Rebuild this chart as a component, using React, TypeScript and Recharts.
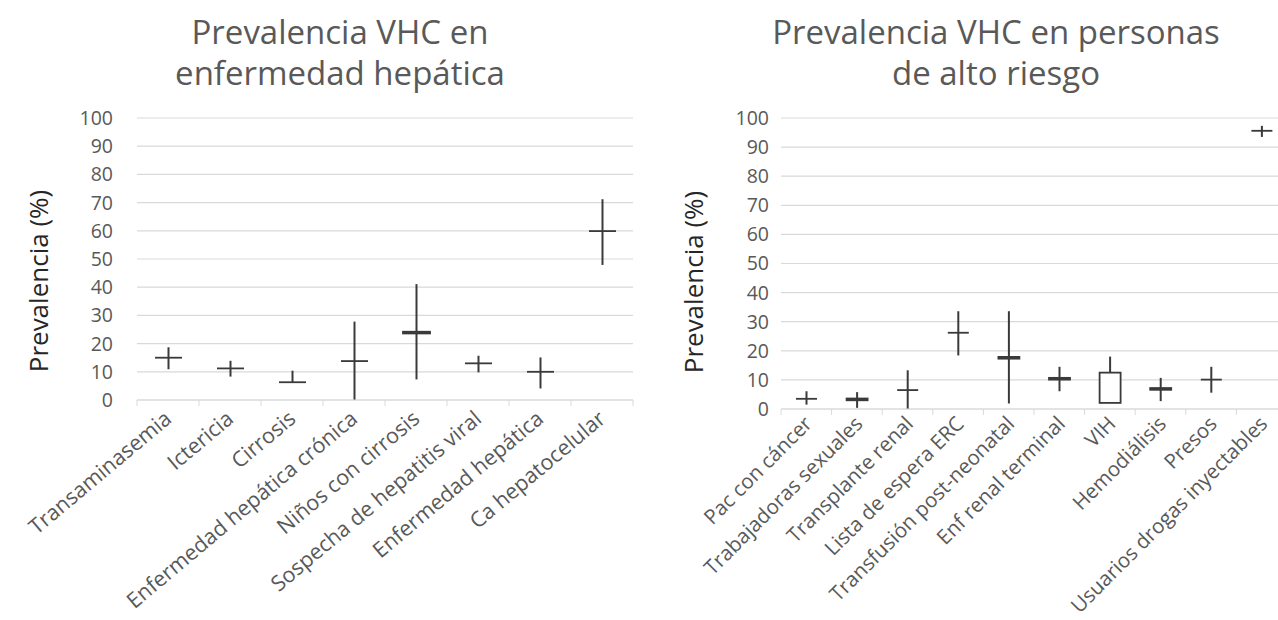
import React from 'react';
import { ComposedChart, Bar, XAxis, YAxis, CartesianGrid } from 'recharts';

// ---- Chart 1: Prevalencia VHC en enfermedad hepática ----
const hepCategories = [
  'Transaminasemia',
  'Ictericia',
  'Cirrosis',
  'Enfermedad hepática crónica',
  'Niños con cirrosis',
  'Sospecha de hepatitis viral',
  'Enfermedad hepática',
  'Ca hepatocelular',
];
const hepLow = [10.9, 8.3, 6.3, 0, 7.3, 9.8, 4.1, 47.9];
const hepHigh = [18.7, 13.9, 10.4, 27.8, 41.1, 15.7, 15.1, 71.2];
const hepOpen = [15.0, 11.2, 6.3, 13.8, 23.6, 13.0, 10.0, 59.9];
const hepClose = [15.0, 11.2, 6.3, 13.8, 24.2, 13.0, 10.0, 59.9];

// ---- Chart 2: Prevalencia VHC en personas de alto riesgo ----
const riskCategories = [
  'Pac con cáncer',
  'Trabajadoras sexuales',
  'Transplante renal',
  'Lista de espera ERC',
  'Transfusión post-neonatal',
  'Enf renal terminal',
  'VIH',
  'Hemodiálisis',
  'Presos',
  'Usuarios drogas inyectables',
];
const riskLow = [1.5, 0.4, 0, 18.4, 1.9, 6.1, 2.1, 2.7, 5.6, 93.5];
const riskHigh = [6.1, 5.8, 13.3, 33.6, 33.6, 14.5, 18.0, 10.7, 14.5, 97.3];
const riskOpen = [3.5, 3.0, 6.5, 26.2, 17.3, 10.1, 2.1, 6.6, 10.1, 95.6];
const riskClose = [3.5, 3.6, 6.5, 26.2, 17.9, 10.7, 12.5, 7.2, 10.1, 95.6];

const yTicks = [0, 10, 20, 30, 40, 50, 60, 70, 80, 90, 100];

const hepTitle = ['Prevalencia VHC en', 'enfermedad hepática'];
const riskTitle = ['Prevalencia VHC en personas', 'de alto riesgo'];
const yAxisTitle = 'Prevalencia (%)';

type Row = { name: string; pos: number; low: number; high: number; open: number; close: number };

function buildRows(cats: string[], low: number[], high: number[], open: number[], close: number[]): Row[] {
  return cats.map((c, i) => ({ name: c, pos: i + 0.5, low: low[i], high: high[i], open: open[i], close: close[i] }));
}

const hepRows = buildRows(hepCategories, hepLow, hepHigh, hepOpen, hepClose);
const riskRows = buildRows(riskCategories, riskLow, riskHigh, riskOpen, riskClose);

const INK = '#3a3a3a';
const GRID = '#d9d9d9';
const TEXT = '#595959';
const FONT = "'Open Sans', sans-serif";

const StockShape = (props: any) => {
  const { x, y, width, height, payload } = props;
  if (x == null || y == null) return null;
  const { low, high, open, close } = payload as Row;
  const span = high - low;
  const yOf = (v: number) => (span === 0 ? y : y + (height * (high - v)) / span);
  const cx = x + width / 2;
  const yTop = yOf(Math.max(open, close));
  const yBot = yOf(Math.min(open, close));
  return (
    <g>
      <line x1={cx} x2={cx} y1={y} y2={y + height} stroke={INK} strokeWidth={2} />
      {yBot - yTop < 0.5 ? (
        <line x1={x} x2={x + width} y1={yTop} y2={yTop} stroke={INK} strokeWidth={1.8} />
      ) : (
        <rect x={x} y={yTop} width={width} height={yBot - yTop} fill="#ffffff" stroke={INK} strokeWidth={1.8} />
      )}
    </g>
  );
};

const makeTick = (cats: string[], fontSize: number, angle: number, dx: number, dy: number) => (props: any) => {
  const { x, y, payload } = props;
  const v = payload.value as number;
  if (Number.isInteger(v)) {
    return <line x1={x} x2={x} y1={y} y2={y + 6} stroke={GRID} strokeWidth={1} />;
  }
  const label = cats[Math.floor(v)];
  const ax = x + dx;
  const ay = y + dy;
  return (
    <text
      x={ax}
      y={ay}
      transform={`rotate(${angle} ${ax} ${ay})`}
      textAnchor="end"
      fontSize={fontSize}
      fill={TEXT}
      fontFamily={FONT}
    >
      {label}
    </text>
  );
};

function tickPositions(n: number): number[] {
  const out: number[] = [];
  for (let i = 0; i <= 2 * n; i++) out.push(i / 2);
  return out;
}

type PanelProps = {
  rows: Row[];
  cats: string[];
  width: number;
  plotLeft: number;
  plotRight: number;
  plotTop: number;
  plotBottom: number;
  barSize: number;
  yMargin: number;
  labelSize: number;
  labelAngle: number;
  labelDx: number;
  labelDy: number;
};

const Panel = ({
  rows,
  cats,
  width,
  plotLeft,
  plotRight,
  plotTop,
  plotBottom,
  barSize,
  yMargin,
  labelSize,
  labelAngle,
  labelDx,
  labelDy,
}: PanelProps) => (
  <ComposedChart
    width={width}
    height={620}
    data={rows}
    margin={{ top: plotTop, right: width - plotRight, bottom: 0, left: 0 }}
    style={{ fontFamily: FONT }}
  >
    <CartesianGrid vertical={false} stroke={GRID} strokeWidth={1.2} />
    <XAxis
      dataKey="pos"
      type="number"
      domain={[0, cats.length]}
      ticks={tickPositions(cats.length)}
      interval={0}
      allowDecimals
      height={620 - plotBottom}
      tickLine={false}
      tickSize={0}
      tickMargin={0}
      axisLine={{ stroke: GRID, strokeWidth: 1.2 }}
      tick={makeTick(cats, labelSize, labelAngle, labelDx, labelDy)}
    />
    <YAxis
      type="number"
      domain={[0, 100]}
      ticks={yTicks}
      interval={0}
      width={plotLeft}
      axisLine={false}
      tickLine={false}
      tickSize={0}
      tickMargin={yMargin}
      tick={{ fontSize: 19.5, fill: TEXT, fontFamily: FONT }}
    />
    <Bar
      dataKey={(d: Row) => [d.low, d.high]}
      barSize={barSize}
      shape={<StockShape />}
      isAnimationActive={false}
    />
  </ComposedChart>
);

const titleStyle = (cx: number): React.CSSProperties => ({
  position: 'absolute',
  left: cx,
  top: 11,
  transform: 'translateX(-50%)',
  whiteSpace: 'nowrap',
  textAlign: 'center',
  fontFamily: FONT,
  fontSize: 33,
  lineHeight: '41px',
  color: TEXT,
});

const yTitleStyle = (cx: number, cy: number): React.CSSProperties => ({
  position: 'absolute',
  left: cx,
  top: cy,
  transform: 'translate(-50%, -50%) rotate(-90deg)',
  whiteSpace: 'nowrap',
  fontFamily: FONT,
  fontSize: 26,
  color: '#262626',
});

export default function App() {
  return (
    <div
      style={{
        position: 'absolute',
        left: 0,
        top: 0,
        width: 1278,
        height: 620,
        overflow: 'hidden',
        background: '#ffffff',
      }}
    >
      <div style={{ position: 'absolute', left: 0, top: 0 }}>
        <Panel
          rows={hepRows}
          cats={hepCategories}
          width={640}
          plotLeft={137}
          plotRight={633}
          plotTop={118}
          plotBottom={400}
          barSize={27}
          yMargin={24}
          labelSize={21.5}
          labelAngle={-40}
          labelDx={5}
          labelDy={21}
        />
      </div>
      <div style={{ position: 'absolute', left: 640, top: 0 }}>
        <Panel
          rows={riskRows}
          cats={riskCategories}
          width={660}
          plotLeft={141}
          plotRight={647}
          plotTop={118}
          plotBottom={409}
          barSize={21}
          yMargin={12}
          labelSize={20.5}
          labelAngle={-45}
          labelDx={7}
          labelDy={16}
        />
      </div>
      <div style={titleStyle(340)}>
        <div>{hepTitle[0]}</div>
        <div>{hepTitle[1]}</div>
      </div>
      <div style={titleStyle(996)}>
        <div>{riskTitle[0]}</div>
        <div>{riskTitle[1]}</div>
      </div>
      <div style={yTitleStyle(38, 281)}>{yAxisTitle}</div>
      <div style={yTitleStyle(693, 282)}>{yAxisTitle}</div>
    </div>
  );
}
